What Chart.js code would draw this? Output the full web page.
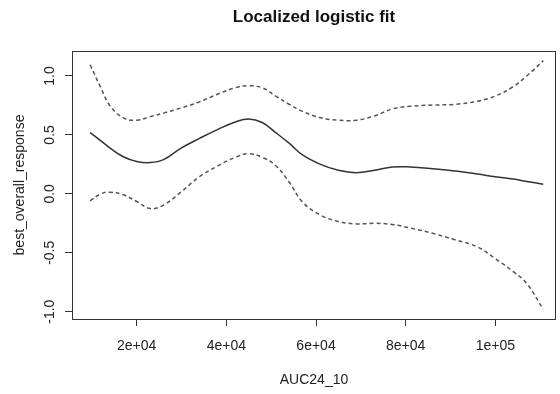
<!DOCTYPE html>
<html>
<head>
<meta charset="utf-8">
<script src="https://cdn.jsdelivr.net/npm/chart.js@4/dist/chart.umd.min.js"></script>
<style>
  body { margin: 0; background: #fff; }
</style>
</head>
<body>
<canvas id="fit-chart" width="560" height="394"></canvas>
<script>
const auc = [9600, 12000, 14000, 17000, 20000, 23000, 26000, 30000, 34000, 38000, 42000, 45000, 48000, 51000, 54000,
  57000, 61000, 65000, 69000, 73000, 77000, 81000, 86000, 91000, 96000, 100000, 104000, 107000, 110700];
const fitted = [0.52, 0.45, 0.39, 0.315, 0.275, 0.265, 0.29, 0.39, 0.47, 0.545, 0.61, 0.635, 0.605, 0.52, 0.43,
  0.33, 0.25, 0.2, 0.18, 0.2, 0.228, 0.228, 0.213, 0.193, 0.168, 0.145, 0.125, 0.105, 0.082];
const upper = [1.095, 0.9, 0.75, 0.645, 0.625, 0.655, 0.685, 0.73, 0.78, 0.845, 0.9, 0.918, 0.9, 0.83, 0.76,
  0.7, 0.645, 0.625, 0.625, 0.66, 0.72, 0.743, 0.753, 0.76, 0.785, 0.83, 0.91, 1.0, 1.13];
const lower = [-0.06, 0.0, 0.014, -0.008, -0.065, -0.125, -0.095, 0.02, 0.145, 0.235, 0.31, 0.34, 0.31, 0.24, 0.1,
  -0.07, -0.18, -0.235, -0.255, -0.25, -0.26, -0.29, -0.335, -0.39, -0.45, -0.55, -0.66, -0.76, -0.98];

const xTicks = [20000, 40000, 60000, 80000, 100000];
const xTickLabels = ["2e+04", "4e+04", "6e+04", "8e+04", "1e+05"];
const yTicks = [-1, -0.5, 0, 0.5, 1];
const yTickLabels = ["-1.0", "-0.5", "0.0", "0.5", "1.0"];

const toPoints = (ys) => auc.map((x, i) => ({ x: x, y: ys[i] }));

// box around the plot region, like R's plot frame
const frame = {
  id: "frame",
  afterDraw(chart) {
    const a = chart.chartArea;
    const ctx = chart.ctx;
    ctx.save();
    ctx.strokeStyle = "#333";
    ctx.lineWidth = 1;
    ctx.strokeRect(a.left + 0.5, a.top + 0.5, a.right - a.left - 1, a.bottom - a.top);
    ctx.restore();
  },
};

const fitCanvas = document.querySelector("#fit-chart");

const fitChart = new Chart(fitCanvas, {
  type: "scatter",
  data: {
    datasets: [
      {
        label: "upper",
        data: toPoints(upper),
        borderColor: "#555",
        borderWidth: 1.5,
        borderDash: [4, 3],
      },
      {
        label: "fit",
        data: toPoints(fitted),
        borderColor: "#333",
        borderWidth: 1.5,
      },
      {
        label: "lower",
        data: toPoints(lower),
        borderColor: "#555",
        borderWidth: 1.5,
        borderDash: [4, 3],
      },
    ],
  },
  options: {
    responsive: false,
    animation: false,
    devicePixelRatio: 1,
    showLine: true,
    pointRadius: 0,
    tension: 0.4,
    layout: { padding: { left: 0, right: 4, top: 0, bottom: 0 } },
    font: { family: "'Liberation Sans', Arial, sans-serif", size: 14 },
    color: "#222",
    plugins: {
      legend: { display: false },
      tooltip: { enabled: false },
      title: {
        display: true,
        text: "Localized logistic fit",
        fullSize: false,
        color: "#111",
        font: { size: 17, weight: "bold" },
        padding: { top: 6.8, bottom: 23.8 },
      },
    },
    scales: {
      x: {
        type: "linear",
        min: 5566,
        max: 113541,
        afterBuildTicks: (scale) => {
          scale.ticks = xTicks.map((v) => ({ value: v }));
        },
        afterFit: (scale) => {
          scale.height = 75;
        },
        ticks: {
          callback: (value, index) => xTickLabels[index],
          color: "#222",
          padding: 11.6,
          maxRotation: 0,
          font: { size: 14 },
        },
        grid: { drawOnChartArea: false, drawTicks: true, tickLength: 7, color: "#333" },
        border: { display: false },
        title: {
          display: true,
          text: "AUC24_10",
          color: "#222",
          font: { size: 14 },
          padding: { top: 0, bottom: 5.6 },
        },
      },
      y: {
        type: "linear",
        min: -1.062,
        max: 1.212,
        afterBuildTicks: (scale) => {
          scale.ticks = yTicks.map((v) => ({ value: v }));
        },
        afterFit: (scale) => {
          scale.width = 72;
        },
        ticks: {
          callback: (value, index) => yTickLabels[index],
          color: "#222",
          padding: 3,
          minRotation: 90,
          maxRotation: 90,
          crossAlign: "center",
          font: { size: 14 },
        },
        grid: { drawOnChartArea: false, drawTicks: true, tickLength: 7, color: "#333" },
        border: { display: false },
        title: {
          display: true,
          text: "best_overall_response",
          color: "#222",
          font: { size: 14 },
          padding: { top: 11.6, bottom: 0 },
        },
      },
    },
  },
  plugins: [frame],
});
</script>
</body>
</html>
